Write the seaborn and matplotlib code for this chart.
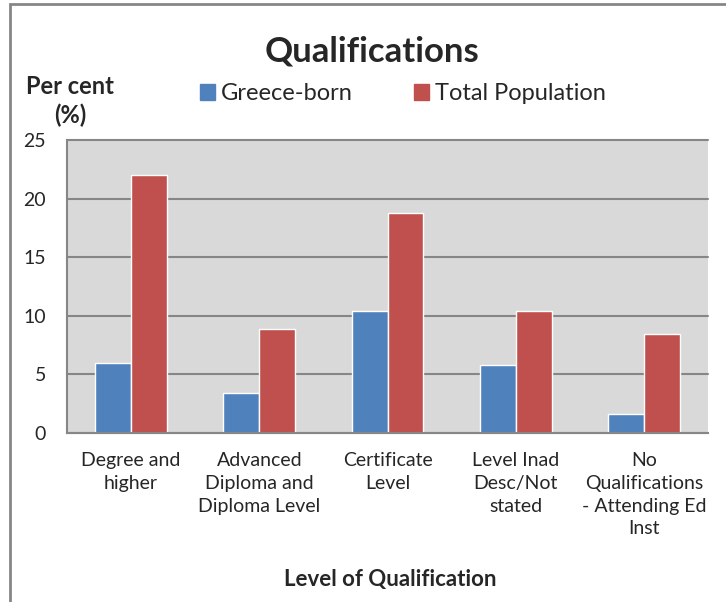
import matplotlib
matplotlib.use("Agg")
import matplotlib.pyplot as plt
import matplotlib.patches as mpatches
import numpy as np
import pandas as pd
import seaborn as sns

categories = ["Degree and\nhigher", "Advanced\nDiploma and\nDiploma Level", "Certificate\nLevel",
              "Level Inad\nDesc/Not\nstated", "No\nQualifications\n- Attending Ed\nInst"]
greece_born = [6.0, 3.4, 10.45, 5.8, 1.6]
total_population = [22.0, 8.85, 18.8, 10.45, 8.45]
series = ["Greece-born", "Total Population"]
colors = ["#4F81BD", "#C0504D"]
yticks = [0, 5, 10, 15, 20, 25]

df = pd.DataFrame({
    "Level": categories * 2,
    "Value": greece_born + total_population,
    "Series": [series[0]] * len(categories) + [series[1]] * len(categories),
})

sns.set_style("white")
plt.rcParams["font.family"] = ["Lato", "DejaVu Sans"]

W, H = 726, 602
fig = plt.figure(figsize=(W / 100, H / 100), dpi=100)
ax = fig.add_axes([67 / W, 1 - 433 / H, 641 / W, 293 / H])

sns.barplot(data=df, x="Level", y="Value", hue="Series", palette=colors,
            width=0.56, gap=0, saturation=1, ax=ax, legend=False)

ax.set_facecolor("#D9D9D9")
ax.set_ylim(0, 25)
ax.set_xlim(-0.5, len(categories) - 0.5)
ax.set_yticks(yticks)
ax.set_yticklabels([str(v) for v in yticks], fontsize=14)
ax.yaxis.grid(True, color="#868686", linewidth=1.5, clip_on=False)
ax.set_axisbelow(True)

ax.set_xticks(range(len(categories)))
ax.set_xticklabels(categories, fontsize=14, linespacing=1.4, va="top")
ax.set_xticks(np.arange(-0.5, len(categories), 1), minor=True)
ax.tick_params(axis="x", which="major", length=0, pad=14)
ax.tick_params(axis="x", which="minor", length=5, color="#868686", width=1.5, direction="out")
ax.tick_params(axis="y", length=5, color="#868686", width=1.5, direction="out", pad=10)

for side in ["top", "right"]:
    ax.spines[side].set_visible(False)
for side in ["left", "bottom"]:
    ax.spines[side].set_color("#868686")
    ax.spines[side].set_linewidth(1.5)

ax.set_xlabel("")
ax.set_ylabel("")

fig.text(372 / W, 1 - 62 / H, "Qualifications", fontsize=25, fontweight="bold",
         ha="center", va="baseline")
fig.text(70 / W, 1 - 101 / H, "Per cent\n(%)", fontsize=17, fontweight="bold",
         ha="center", va="center", linespacing=1.3)
fig.text(390 / W, 1 - 586 / H, "Level of Qualification", fontsize=16, fontweight="bold",
         ha="center", va="baseline")

handles = [mpatches.Patch(color=c, label=s) for c, s in zip(colors, series)]
fig.legend(handles=handles, loc="center", bbox_to_anchor=(403 / W, 1 - 94 / H), ncol=2,
           frameon=False, fontsize=17, handlelength=0.64, handleheight=0.64,
           handletextpad=0.25, columnspacing=2.6, borderpad=0)

fig.patches.append(mpatches.Rectangle((10 / W, -0.1), 1.2, 1.1 - 4 / H,
                                      transform=fig.transFigure, fill=False,
                                      edgecolor="#868686", linewidth=2))

fig.savefig("out.png", dpi=100)
